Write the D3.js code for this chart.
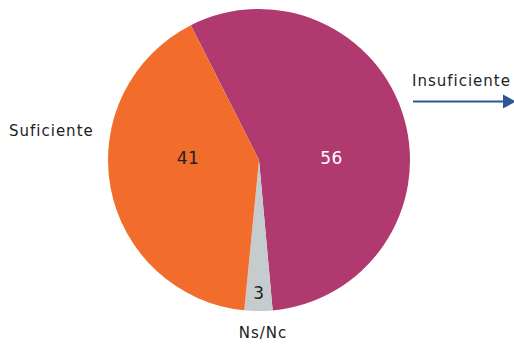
<!DOCTYPE html>
<html>
<head>
<meta charset="utf-8">
<script src="https://cdn.jsdelivr.net/npm/d3@7"></script>
<style>
  body { margin: 0; background: #fff; }
  text { font-family: "DejaVu Sans", sans-serif; }
</style>
</head>
<body>
<svg id="chart" width="514" height="345"></svg>
<script>
const categories = ['Insuficiente', 'Ns/Nc', 'Suficiente'];
const values = [56, 3, 41];
const colors = ['#B0396F', '#C6CBCE', '#F26C2C'];
const valueColors = ['#ffffff', '#222222', '#222222'];

const cx = 259, cy = 160, radius = 151;
const startAngle = -26.8 * Math.PI / 180;

const svg = d3.select('#chart');
const g = svg.append('g').attr('transform', 'translate(' + cx + ',' + cy + ')');

const pie = d3.pie()
  .sort(null)
  .startAngle(startAngle)
  .endAngle(startAngle + 2 * Math.PI);
const arcs = pie(values);

const arc = d3.arc().innerRadius(0).outerRadius(radius);

g.selectAll('path')
  .data(arcs)
  .enter().append('path')
  .attr('d', arc)
  .style('fill', function(d, i) { return colors[i]; })
  .style('stroke', 'none');

// value labels (placement: angle in degrees, fraction of radius)
const labelAngle = [88.5, 180, 271.2];
const labelRadius = [0.48, 0.88, 0.47];
g.selectAll('.val')
  .data(arcs)
  .enter().append('text')
  .attr('class', 'val')
  .attr('transform', function(d, i) {
    let a = labelAngle[i] * Math.PI / 180;
    let r = radius * labelRadius[i];
    return 'translate(' + (Math.sin(a) * r) + ',' + (-Math.cos(a) * r) + ')';
  })
  .attr('dy', '0.35em')
  .style('text-anchor', 'middle')
  .style('font-size', '17px')
  .style('letter-spacing', '0.5px')
  .style('fill', function(d, i) { return valueColors[i]; })
  .text(function(d) { return d.data; });

// category labels
function catLabel(text, x, y, anchor) {
  svg.append('text')
    .attr('x', x).attr('y', y)
    .style('text-anchor', anchor)
    .style('font-size', '15px')
    .style('letter-spacing', '1px')
    .style('fill', '#222')
    .text(text);
}
catLabel(categories[0], 412, 86, 'start');
catLabel(categories[1], 263, 338, 'middle');
catLabel(categories[2], 9, 136, 'start');

// arrow pointing off to the right
const arrowY = 101.5;
svg.append('line')
  .attr('x1', 413).attr('y1', arrowY)
  .attr('x2', 505).attr('y2', arrowY)
  .style('stroke', '#2F5597')
  .style('stroke-width', 2);
svg.append('path')
  .attr('d', d3.line()([[503, arrowY - 7], [516, arrowY], [503, arrowY + 7]]) + 'Z')
  .style('fill', '#2F5597');
</script>
</body>
</html>
